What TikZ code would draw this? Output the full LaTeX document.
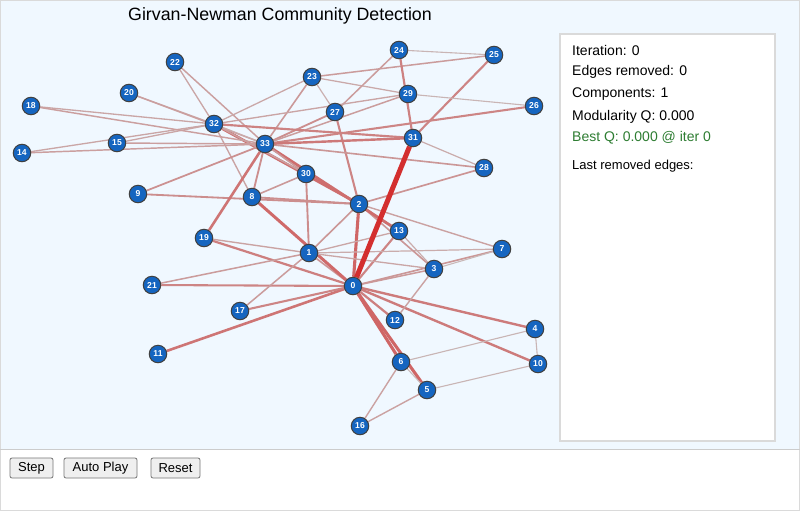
\documentclass[tikz,border=0pt]{standalone}
\usepackage{fontspec}
\setmainfont{Liberation Sans}
\definecolor{ered}{HTML}{D32F2F}
\definecolor{egray}{HTML}{C8C4C4}
\definecolor{nblue}{HTML}{1565C0}
\definecolor{bgblue}{HTML}{F0F8FF}
\definecolor{qgreen}{HTML}{2E7D32}
\definecolor{btnfill}{HTML}{EFEFEF}
\definecolor{btnline}{HTML}{767676}
\definecolor{panelline}{HTML}{DADADA}
\pgfdeclarelayer{edges}
\pgfdeclarelayer{bg}
\pgfsetlayers{bg,edges,main}
\begin{document}
\begin{tikzpicture}[x=1pt,y=-1pt,
  gnode/.style={circle,fill=nblue,draw=black!75,line width=1pt,minimum size=17.5pt,inner sep=0pt,text=white,font=\fontsize{8.6}{8.6}\selectfont\bfseries},
  btn/.style={draw=btnline,fill=btnfill,rounded corners=2pt,line width=0.8pt,minimum height=20pt,inner sep=0pt,font=\fontsize{13}{13}\selectfont},
  ptext/.style={anchor=west,inner sep=0pt,font=\fontsize{14}{14}\selectfont}]
\useasboundingbox (0,0) rectangle (800,512);
\begin{pgfonlayer}{bg}
  \fill[white] (0,0) rectangle (800,512);
  \fill[bgblue] (0,0) rectangle (800,449);
  \draw[panelline,line width=1pt] (0.5,0.5) rectangle (799.5,510.5);
  \draw[black!20,line width=1.5pt] (0,449.5) -- (800,449.5);
  \draw[panelline,line width=2pt,fill=white] (560,34) rectangle (775,441);
\end{pgfonlayer}
\node[font=\fontsize{17.8}{17.8}\selectfont] (title) at (280,16) {Girvan-Newman Community Detection};
\foreach \i/\x/\y in {0/353/286,1/309/253,2/359/204,3/434/269,4/535/329,5/427/390,6/401/362,7/502/249,8/252/197,9/138/194,10/538/364,11/158/354,12/395/320,13/399/231,14/22/153,15/117/143,16/360/426,17/240/311,18/31/106,19/204/238,20/129/93,21/152/285,22/175/62,23/312/77,24/399/50,25/494/55,26/534/106,27/335/112,28/484/168,29/408/94,30/306/174,31/413/138,32/214/124,33/265/144}
  \node[gnode] (n\i) at (\x,\y) {\i};
\begin{pgfonlayer}{edges}
\foreach \a/\b/\v in {0/1/25,0/2/78,0/3/20,0/4/52,0/5/78,0/6/78,0/7/23,0/8/74,0/10/52,0/11/59,0/12/46,0/13/42,0/17/40,0/19/46,0/21/40,1/2/23,1/3/12,1/7/8,1/13/12,1/17/19,1/19/14,1/21/19,1/30/33,2/3/23,2/7/15,2/8/31,2/9/31,2/13/16,2/27/40,2/28/25,2/32/69,3/7/3,3/12/15,3/13/8,4/6/4,4/10/4,5/6/3,5/10/4,5/16/15,6/16/15,8/30/22,8/32/14,8/33/31,9/33/28,13/33/68,14/32/12,14/33/17,15/32/12,15/33/17,18/32/12,18/33/17,19/33/59,20/32/12,20/33/17,22/32/12,22/33/17,23/25/19,23/27/7,23/29/10,23/32/11,23/33/22,24/25/4,24/27/19,24/31/44,25/31/41,26/29/4,26/33/40,27/33/31,28/31/8,28/33/23,29/32/13,29/33/18,30/32/17,30/33/22,31/32/43,31/33/53,32/33/8}
{
  \pgfmathsetmacro\w{1+3.4*\v/127}
  \pgfmathtruncatemacro\p{85*(\v/127)^0.6}
  \draw[line width=\w pt,color=ered!\p!egray] (n\a) -- (n\b);
}
\draw[line width=5pt,color=ered] (n0) -- (n31);
\end{pgfonlayer}
\node[ptext] (t1) at (572,50) {Iteration: 0};
\node[ptext] (t2) at (572,72) {Edges removed: 0};
\node[ptext] (t3) at (572,94) {Components: 1};
\node[ptext] (t4) at (572,116.5) {Modularity Q: 0.000};
\node[ptext,text=qgreen] (t5) at (572,138) {Best Q: 0.000 @ iter 0};
\node[ptext,font=\fontsize{13}{13}\selectfont] (t6) at (572,166.5) {Last removed edges:};
\node[btn,minimum width=43pt] (bstep) at (31.5,468) {Step};
\node[btn,minimum width=73pt] (bauto) at (100.5,468) {Auto Play};
\node[btn,minimum width=49pt] (breset) at (175.5,468) {Reset};
\end{tikzpicture}
\end{document}
